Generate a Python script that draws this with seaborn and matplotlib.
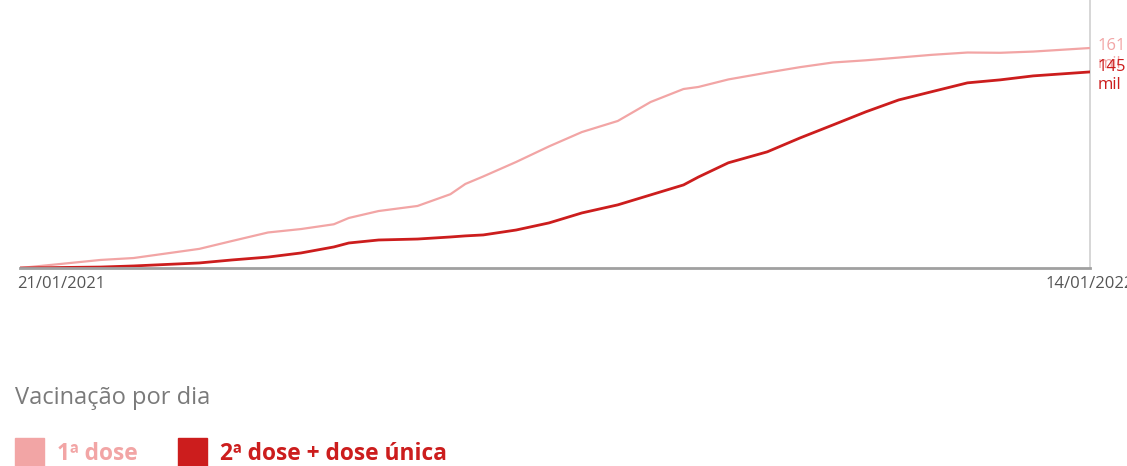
import matplotlib.pyplot as plt
from matplotlib.patches import Rectangle
import pandas as pd
import seaborn as sns

# dados (milhões de doses acumuladas)
datas = [
    '2021-01-21', '2021-02-17', '2021-02-28', '2021-03-22', '2021-04-02',
    '2021-04-14', '2021-04-25', '2021-05-06', '2021-05-11', '2021-05-21',
    '2021-06-03', '2021-06-14', '2021-06-19', '2021-06-25', '2021-07-06',
    '2021-07-17', '2021-07-28', '2021-08-09', '2021-08-20', '2021-08-31',
    '2021-09-05', '2021-09-15', '2021-09-28', '2021-10-09', '2021-10-20',
    '2021-10-31', '2021-11-11', '2021-11-22', '2021-12-04', '2021-12-15',
    '2021-12-26', '2022-01-14',
]
dose1 = [
    0, 5.9, 7.3, 14, 19.8, 26, 28.5, 32, 36.6, 41.7,
    45.4, 54, 61.5, 67, 77.6, 89, 99.5, 107.6, 121.5, 131,
    132.5, 138, 143, 147, 150.4, 152, 154, 156, 157.7, 157.5,
    158.4, 161,
]
dose2 = [
    0, 0.7, 1.5, 3.7, 5.9, 8, 11, 15.4, 18.3, 20.5,
    21.2, 22.7, 23.5, 24.2, 27.8, 33, 40.3, 46.2, 53.5, 60.8,
    66.6, 77, 85, 95.2, 104.7, 114.3, 123, 129, 135.5, 137.7,
    140.6, 143.5,
]
series = ['1ª dose', '2ª dose + dose única']
cores = {'1ª dose': '#f2a5a5', '2ª dose + dose única': '#cc1d1d'}
rotulos_fim = ['161\nmil', '145\nmil']

df = pd.DataFrame({'data': pd.to_datetime(datas), series[0]: dose1, series[1]: dose2})
longo = df.melt(id_vars='data', var_name='serie', value_name='valor')

sns.set_style('white')
plt.rcParams['font.family'] = ['Open Sans', 'DejaVu Sans']

fig = plt.figure(figsize=(11.27, 4.66), dpi=100)
ax = fig.add_axes([20 / 1127, 198 / 466, 1070 / 1127, 248 / 466])

sns.lineplot(data=longo, x='data', y='valor', hue='serie', palette=cores,
             ax=ax, legend=False, linewidth=1.6)
for ln, lw in zip(ax.lines, [1.6, 2.0]):
    ln.set_linewidth(lw)

x0, x1 = df['data'].iloc[0], df['data'].iloc[-1]
ax.set_xlim(x0, x1)
ax.set_ylim(0, 181.5)
ax.set_xlabel('')
ax.set_ylabel('')
ax.set_yticks([])
ax.set_xticks([])
for s in ['top', 'right', 'left']:
    ax.spines[s].set_visible(False)
ax.spines['bottom'].set_color('#a0a0a0')
ax.spines['bottom'].set_linewidth(2)

# linha vertical do último dia
ax.plot([x1, x1], [0, 1.08], transform=ax.get_xaxis_transform(),
        color='#d0d0d0', lw=1.2, clip_on=False, zorder=1)

# rótulos do eixo x
ax.annotate('21/01/2021', xy=(x0, 0), xycoords=('data', 'axes fraction'),
            xytext=(-3, -16), textcoords='offset pixels', ha='left', va='center',
            fontsize=12, color='#555555')
ax.annotate('14/01/2022', xy=(x1, 0), xycoords=('data', 'axes fraction'),
            xytext=(0, -16), textcoords='offset pixels', ha='center', va='center',
            fontsize=12, color='#555555', annotation_clip=False)

# rótulos no fim das linhas
for nome, txt, dy in zip(series, rotulos_fim, [10, 13]):
    ax.annotate(txt, xy=(x1, df[nome].iloc[-1]), xytext=(8, dy),
                textcoords='offset pixels', ha='left', va='top',
                fontsize=12, color=cores[nome], linespacing=1.15,
                annotation_clip=False)

# título e legenda
fig.text(15 / 1127, 1 - 398 / 466, 'Vacinação por dia', fontsize=17,
         color='#7a7a7a', ha='left', va='center')
for nome, xq, xt in zip(series, [15, 178], [57, 220]):
    fig.patches.append(Rectangle((xq / 1127, 0), 29 / 1127, 28 / 466,
                                 transform=fig.transFigure, color=cores[nome]))
    fig.text(xt / 1127, 1 - 454 / 466, nome, fontsize=16.4, fontweight='bold',
             color=cores[nome], ha='left', va='center')

fig.savefig('out.png', dpi=100)
